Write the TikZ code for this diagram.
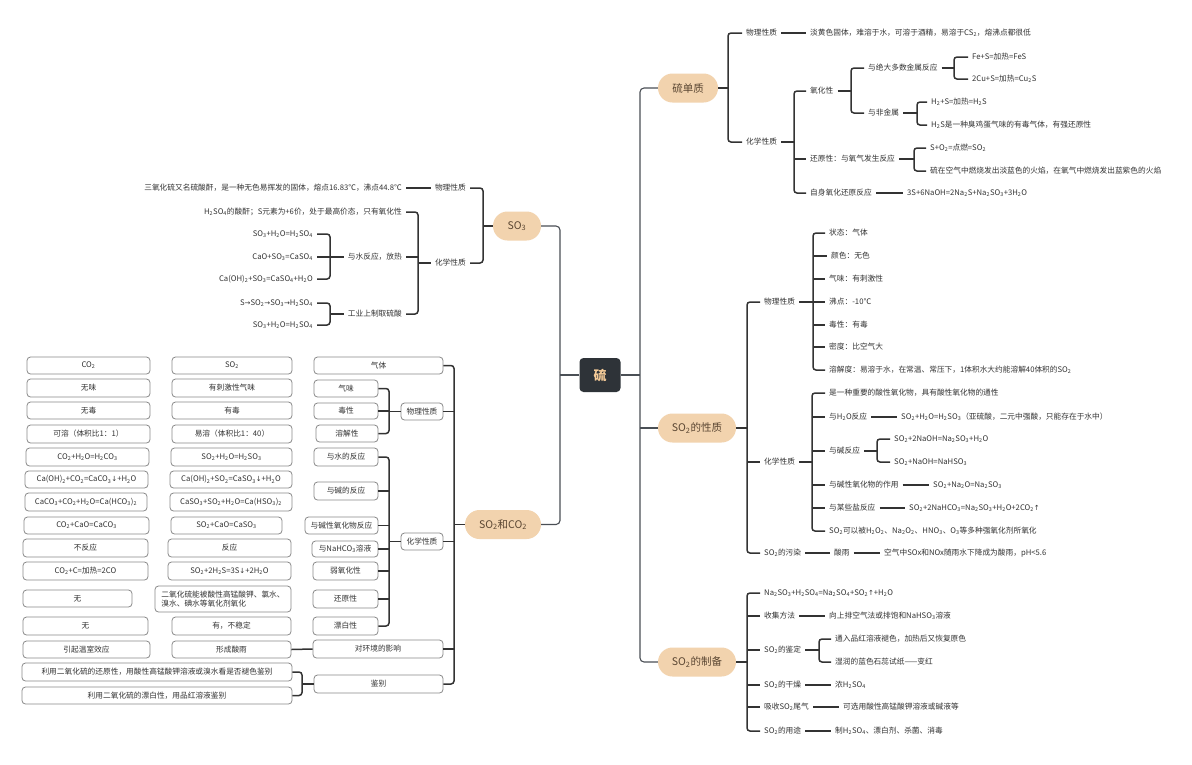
\documentclass[tikz,border=0pt]{standalone}
\usepackage{fontspec}
\setmainfont{Noto Sans CJK SC}
\newfontfamily\dvf{DejaVu Sans}
\definecolor{linec}{HTML}{333333}
\definecolor{trunkc}{HTML}{4A4F55}
\definecolor{textc}{HTML}{333333}
\definecolor{boxc}{HTML}{8A8A8A}
\definecolor{peach}{HTML}{F2D3AE}
\definecolor{lvtext}{HTML}{5A4632}
\definecolor{rootc}{HTML}{2E3338}
\definecolor{roottext}{HTML}{F5CB98}
\newcommand\fsm{\fontsize{7.7}{9.5}\selectfont}
\newcommand\flg{\fontsize{10.5}{12}\selectfont}
\newcommand\xb[1]{\textsubscript{#1}}
\newcommand\ua{{\dvf\fontsize{7}{9}\selectfont ↑}}
\newcommand\da{{\dvf\fontsize{7}{9}\selectfont ↓}}
\newcommand\ra{{\dvf\fontsize{7}{9}\selectfont →}}
\newcommand\rbox[6]{\node[bx,minimum width={#4pt-#3pt},minimum height={#6pt-#5pt}] (#1) at ({(#3+#4)/2},{(#5+#6)/2}) {#2};}
\tikzset{
 conn/.style={draw=linec, line width=1.5pt, rounded corners=3pt},
 trunk/.style={draw=trunkc, line width=1.1pt, rounded corners=4pt},
 t/.style={font=\fsm, text=textc, inner xsep=4pt, inner ysep=1.5pt},
 tw/.style={t, anchor=west},
 te/.style={t, anchor=east},
 lv/.style={fill=peach, rounded corners=14.5pt, minimum height=29pt, text=lvtext, font=\flg, inner xsep=0pt},
 bx/.style={draw=boxc, line width=0.8pt, rounded corners=3.5pt, fill=white, text=textc, font=\fsm, inner sep=1pt},
}
\begin{document}
\begin{tikzpicture}[x=1pt,y=-1pt]
\useasboundingbox[fill=white] (0,0) rectangle (1192,764);
% root
\node[fill=rootc, rounded corners=4pt, minimum width=41pt, minimum height=34pt, text=roottext, font=\fontsize{13}{14}\selectfont\bfseries] (root) at (600,375) {硫};
\coordinate (rt) at (640,375);
\coordinate (lt) at (560,375);
% level 1
\node[lv, minimum width=60pt] (ls) at (688,88) {硫单质};
\node[lv, minimum width=78pt] (sx) at (697,428) {SO\xb{2}的性质};
\node[lv, minimum width=78pt] (zb) at (697,662) {SO\xb{2}的制备};
\node[lv, minimum width=48pt] (s3) at (517,226) {SO\xb{3}};
\node[lv, minimum width=76pt] (sc) at (503,524.5) {SO\xb{2}和CO\xb{2}};
\draw[trunk] (root.east) -- (rt);
\draw[trunk] (ls.west) -| (rt) |- (zb.west);
\draw[trunk] (rt |- sx) -- (sx.west);
\draw[trunk] (root.west) -- (lt);
\draw[trunk] (s3.east) -| (lt) |- (sc.east);

% ===== 硫单质 =====
\node[tw] (wl1) at (742,33) {物理性质};
\node[tw] (hx1) at (742,142) {化学性质};
\coordinate (b1) at (728,88);
\draw[conn] (ls.east) -- (b1);
\draw[conn] (wl1.west) -| (b1) |- (hx1.west);
\node[tw] (wl1a) at (806,33) {淡黄色固体，难溶于水，可溶于酒精，易溶于CS\xb{2}，熔沸点都很低};
\draw[conn] (wl1.east) -- (wl1a.west);
\node[tw] (yh) at (806,91) {氧化性};
\node[tw] (hy) at (806,159) {还原性：与氧气发生反应};
\node[tw] (zs) at (806,193) {自身氧化还原反应};
\coordinate (b2) at (794,142);
\draw[conn] (hx1.east) -- (b2);
\draw[conn] (yh.west) -| (b2) |- (zs.west);
\draw[conn] (b2 |- hy) -- (hy.west);
\node[tw] (jsh) at (864,68) {与绝大多数金属反应};
\node[tw] (ffj) at (864,113) {与非金属};
\coordinate (b3) at (851,91);
\draw[conn] (yh.east) -- (b3);
\draw[conn] (jsh.west) -| (b3) |- (ffj.west);
\node[tw] (fes) at (968,57) {Fe+S=加热=FeS};
\node[tw] (cus) at (968,79) {2Cu+S=加热=Cu\xb{2}S};
\coordinate (b4) at (954,68);
\draw[conn] (jsh.east) -- (b4);
\draw[conn] (fes.west) -| (b4) |- (cus.west);
\node[tw] (h2s) at (927,102) {H\xb{2}+S=加热=H\xb{2}S};
\node[tw] (h2sb) at (927,125) {H\xb{2}S是一种臭鸡蛋气味的有毒气体，有强还原性};
\coordinate (b5) at (917,113);
\draw[conn] (ffj.east) -- (b5);
\draw[conn] (h2s.west) -| (b5) |- (h2sb.west);
\node[tw] (so2a) at (926,148) {S+O\xb{2}=点燃=SO\xb{2}};
\node[tw] (hy2) at (926,171) {硫在空气中燃烧发出淡蓝色的火焰，在氧气中燃烧发出蓝紫色的火焰};
\coordinate (b6) at (914,159);
\draw[conn] (hy.east) -- (b6);
\draw[conn] (so2a.west) -| (b6) |- (hy2.west);
\node[tw] (zs2) at (903,193) {3S+6NaOH=2Na\xb{2}S+Na\xb{2}SO\xb{3}+3H\xb{2}O};
\draw[conn] (zs.east) -- (zs2.west);

% ===== SO2的性质 =====
\coordinate (b7) at (747,428);
\node[tw] (wl2) at (760,302) {物理性质};
\node[tw] (hx2) at (760,462) {化学性质};
\node[tw] (wr) at (760,553) {SO\xb{2}的污染};
\draw[conn] (sx.east) -- (b7);
\draw[conn] (wl2.west) -| (b7) |- (wr.west);
\draw[conn] (b7 |- hx2) -- (hx2.west);
\coordinate (b8) at (813,302);
\node[tw] (p1) at (825,233) {状态：气体};
\node[tw] (p2) at (827,256) {颜色：无色};
\node[tw] (p3) at (825,279) {气味：有刺激性};
\node[tw] (p4) at (825,302) {沸点：-10℃};
\node[tw] (p5) at (825,325) {毒性：有毒};
\node[tw] (p6) at (825,347) {密度：比空气大};
\node[tw] (p7) at (825,370) {溶解度：易溶于水，在常温、常压下，1体积水大约能溶解40体积的SO\xb{2}};
\draw[conn] (wl2.east) -- (b8);
\draw[conn] (p1.west) -| (b8) |- (p7.west);
\foreach \n in {p2,p3,p4,p5,p6} \draw[conn] (b8 |- \n) -- (\n.west);
\coordinate (b9) at (812,462);
\node[tw] (c1) at (825,393) {是一种重要的酸性氧化物，具有酸性氧化物的通性};
\node[tw] (c2) at (825,417) {与H\xb{2}O反应};
\node[tw] (c3) at (825,451) {与碱反应};
\node[tw] (c4) at (825,485) {与碱性氧化物的作用};
\node[tw] (c5) at (825,508) {与某些盐反应};
\node[tw] (c6) at (825,531) {SO\xb{2}可以被H\xb{2}O\xb{2}、Na\xb{2}O\xb{2}、HNO\xb{3}、O\xb{3}等多种强氧化剂所氧化};
\draw[conn] (hx2.east) -- (b9);
\draw[conn] (c1.west) -| (b9) |- (c6.west);
\foreach \n in {c2,c3,c4,c5} \draw[conn] (b9 |- \n) -- (\n.west);
\node[tw] (c2a) at (897,417) {SO\xb{2}+H\xb{2}O=H\xb{2}SO\xb{3}（亚硫酸，二元中强酸，只能存在于水中）};
\draw[conn] (c2.east) -- (c2a.west);
\coordinate (b10) at (877,451);
\node[tw] (c3a) at (890,439) {SO\xb{2}+2NaOH=Na\xb{2}SO\xb{3}+H\xb{2}O};
\node[tw] (c3b) at (890,462) {SO\xb{2}+NaOH=NaHSO\xb{3}};
\draw[conn] (c3.east) -- (b10);
\draw[conn] (c3a.west) -| (b10) |- (c3b.west);
\node[tw] (c4a) at (929,485) {SO\xb{2}+Na\xb{2}O=Na\xb{2}SO\xb{3}};
\draw[conn] (c4.east) -- (c4a.west);
\node[tw] (c5a) at (905,508) {SO\xb{2}+2NaHCO\xb{3}=Na\xb{2}SO\xb{3}+H\xb{2}O+2CO\xb{2}\ua};
\draw[conn] (c5.east) -- (c5a.west);
\node[tw] (sy) at (830,553) {酸雨};
\node[tw] (sya) at (880,553) {空气中SOx和NOx随雨水下降成为酸雨，pH<5.6};
\draw[conn] (wr.east) -- (sy.west);
\draw[conn] (sy.east) -- (sya.west);

% ===== SO2的制备 =====
\coordinate (b11) at (747,662);
\node[tw] (z1) at (760,593) {Na\xb{2}SO\xb{3}+H\xb{2}SO\xb{4}=Na\xb{2}SO\xb{4}+SO\xb{2}\ua+H\xb{2}O};
\node[tw] (z2) at (760,616) {收集方法};
\node[tw] (z3) at (760,650) {SO\xb{2}的鉴定};
\node[tw] (z4) at (760,685) {SO\xb{2}的干燥};
\node[tw] (z5) at (760,707) {吸收SO\xb{2}尾气};
\node[tw] (z6) at (760,731) {SO\xb{2}的用途};
\draw[conn] (zb.east) -- (b11);
\draw[conn] (z1.west) -| (b11) |- (z6.west);
\foreach \n in {z2,z3,z4,z5} \draw[conn] (b11 |- \n) -- (\n.west);
\node[tw] (z2a) at (825,616) {向上排空气法或排饱和NaHSO\xb{3}溶液};
\draw[conn] (z2.east) -- (z2a.west);
\coordinate (b12) at (819,650);
\node[tw] (z3a) at (831,639) {通入品红溶液褪色，加热后又恢复原色};
\node[tw] (z3b) at (831,662) {湿润的蓝色石蕊试纸——变红};
\draw[conn] (z3.east) -- (b12);
\draw[conn] (z3a.west) -| (b12) |- (z3b.west);
\node[tw] (z4a) at (831,685) {浓H\xb{2}SO\xb{4}};
\draw[conn] (z4.east) -- (z4a.west);
\node[tw] (z5a) at (839,707) {可选用酸性高锰酸钾溶液或碱液等};
\draw[conn] (z5.east) -- (z5a.west);
\node[tw] (z6a) at (831,731) {制H\xb{2}SO\xb{4}、漂白剂、杀菌、消毒};
\draw[conn] (z6.east) -- (z6a.west);

% ===== SO3 =====
\coordinate (b13) at (483,226);
\node[te] (wl3) at (470,188) {物理性质};
\node[te] (hx3) at (470,263) {化学性质};
\draw[conn] (s3.west) -- (b13);
\draw[conn] (wl3.east) -| (b13) |- (hx3.east);
\node[te] (wl3a) at (406,188) {三氧化硫又名硫酸酐，是一种无色易挥发的固体，熔点16.83℃，沸点44.8℃};
\draw[conn] (wl3.west) -- (wl3a.east);
\coordinate (b14) at (418,263);
\node[te] (k1) at (406,212) {H\xb{2}SO\xb{4}的酸酐；S元素为+6价，处于最高价态，只有氧化性};
\node[te] (ys) at (406,257) {与水反应，放热};
\node[te] (gy) at (406,314) {工业上制取硫酸};
\draw[conn] (hx3.west) -- (b14);
\draw[conn] (k1.east) -| (b14) |- (gy.east);
\draw[conn] (b14 |- ys) -- (ys.east);
\coordinate (b15) at (330,257);
\node[te] (ys1) at (317,234) {SO\xb{3}+H\xb{2}O=H\xb{2}SO\xb{4}};
\node[te] (ys2) at (317,257) {CaO+SO\xb{3}=CaSO\xb{4}};
\node[te] (ys3) at (317,279) {Ca(OH)\xb{2}+SO\xb{3}=CaSO\xb{4}+H\xb{2}O};
\draw[conn] (ys.west) -- (ys2.east);
\draw[conn] (ys1.east) -| (b15) |- (ys3.east);
\coordinate (b16) at (330,314);
\node[te] (gy1) at (317,303) {S\ra SO\xb{2}\ra SO\xb{3}\ra H\xb{2}SO\xb{4}};
\node[te] (gy2) at (317,325) {SO\xb{3}+H\xb{2}O=H\xb{2}SO\xb{4}};
\draw[conn] (gy.west) -- (b16);
\draw[conn] (gy1.east) -| (b16) |- (gy2.east);

% ===== SO2和CO2 =====
\rbox{qt}{气体}{314}{443}{357}{374}
\rbox{wl4}{物理性质}{401}{443}{403}{420}
\rbox{hx4}{化学性质}{401}{443}{533}{550}
\rbox{hj}{对环境的影响}{313}{443}{640}{658}
\rbox{jb}{鉴别}{314}{443}{675}{693}
\coordinate (b17) at (454,524.5);
\draw[conn] (sc.west) -- (b17);
\draw[conn] (qt.east) -| (b17) |- (jb.east);
\foreach \n in {wl4,hx4,hj} \draw[conn] (b17 |- \n) -- (\n.east);
\rbox{m1}{气味}{314}{378}{380}{397}
\rbox{m2}{毒性}{314}{378}{403}{419}
\rbox{m3}{溶解性}{316}{378}{425}{442}
\coordinate (b18) at (389,411.5);
\draw[conn] (wl4.west) -- (b18);
\draw[conn] (m1.east) -| (b18) |- (m3.east);
\draw[conn] (b18 |- m2) -- (m2.east);
\rbox{n1}{与水的反应}{314}{378}{448}{466}
\rbox{n2}{与碱的反应}{314}{378}{482}{500}
\rbox{n3}{与碱性氧化物反应}{305}{378}{517}{534}
\rbox{n4}{与NaHCO\xb{3}溶液}{312}{378}{541}{557}
\rbox{n5}{弱氧化性}{313}{378}{562}{580}
\rbox{n6}{还原性}{313}{378}{590}{608}
\rbox{n7}{漂白性}{313}{378}{617}{635}
\coordinate (b19) at (389,541.5);
\draw[conn] (hx4.west) -- (b19);
\draw[conn] (n1.east) -| (b19) |- (n7.east);
\foreach \n in {n2,n3,n4,n5,n6} \draw[conn] (b19 |- \n) -- (\n.east);
% columns
\rbox{a1}{CO\xb{2}}{27}{150}{357}{374}
\rbox{s1}{SO\xb{2}}{172}{292}{357}{374}
\rbox{a2}{无味}{27}{150}{379}{397}
\rbox{s2}{有刺激性气味}{172}{292}{379}{397}
\rbox{a3}{无毒}{27}{150}{402}{419}
\rbox{s3b}{有毒}{172}{292}{402}{419}
\rbox{a4}{可溶（体积比1：1）}{27}{150}{425}{443}
\rbox{s4}{易溶（体积比1：40）}{172}{292}{425}{443}
\rbox{a5}{CO\xb{2}+H\xb{2}O=H\xb{2}CO\xb{3}}{26}{149}{448}{466}
\rbox{s5}{SO\xb{2}+H\xb{2}O=H\xb{2}SO\xb{3}}{171}{292}{448}{466}
\rbox{a6}{Ca(OH)\xb{2}+CO\xb{2}=CaCO\xb{3}\da+H\xb{2}O}{25}{148}{471}{488}
\rbox{s6}{Ca(OH)\xb{2}+SO\xb{2}=CaSO\xb{3}\da+H\xb{2}O}{170}{292}{471}{488}
\rbox{a7}{CaCO\xb{3}+CO\xb{2}+H\xb{2}O=Ca(HCO\xb{3})\xb{2}}{25}{147}{493}{511}
\rbox{s7}{CaSO\xb{3}+SO\xb{2}+H\xb{2}O=Ca(HSO\xb{3})\xb{2}}{170}{292}{493}{511}
\rbox{a8}{CO\xb{2}+CaO=CaCO\xb{3}}{24}{149}{517}{534}
\rbox{s8}{SO\xb{2}+CaO=CaSO\xb{3}}{171}{282}{517}{534}
\rbox{a9}{不反应}{23}{148}{539}{557}
\rbox{s9}{反应}{168}{291}{539}{557}
\rbox{a10}{CO\xb{2}+C=加热=2CO}{23}{148}{562}{580}
\rbox{s10}{SO\xb{2}+2H\xb{2}S=3S\da+2H\xb{2}O}{168}{291}{562}{580}
\rbox{a11}{无}{23}{132}{590}{607}
\node[bx,minimum width=136pt,minimum height=26pt,align=left] (s11) at (223,599) {二氧化硫能被酸性高锰酸钾、氯水、\\溴水、碘水等氧化剂氧化};
\rbox{a12}{无}{23}{148}{617}{635}
\rbox{s12}{有，不稳定}{172}{291}{617}{635}
\rbox{a13}{引起温室效应}{23}{150}{641}{658}
\rbox{s13}{形成酸雨}{172}{291}{641}{658}
\draw[conn] (s13.east) -- (hj.west);
\rbox{ly1}{利用二氧化硫的还原性，用酸性高锰酸钾溶液或溴水看是否褪色鉴别}{22}{292}{663}{681}
\rbox{ly2}{利用二氧化硫的漂白性，用品红溶液鉴别}{22}{292}{687}{704}
\coordinate (b20) at (302,684);
\draw[conn] (jb.west) -- (b20);
\draw[conn] (ly1.east) -| (b20) |- (ly2.east);
\end{tikzpicture}
\end{document}
